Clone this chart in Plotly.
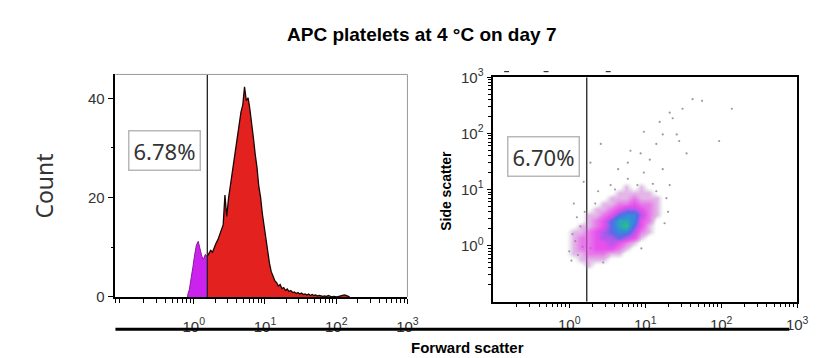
import numpy as np
import plotly.graph_objects as go

# ---------------- data ----------------
TITLE = "APC platelets at 4 °C on day 7"
X_TITLE = "Forward scatter"
Y_LEFT_TITLE = "Count"
Y_RIGHT_TITLE = "Side scatter"
GATE_LABEL_LEFT = "6.78%"
GATE_LABEL_RIGHT = "6.70%"
GATE_LEFT = 1.55     # forward-scatter gate, histogram
GATE_RIGHT = 1.7     # forward-scatter gate, dot plot

# histogram: log10(FSC) bins
HIST_BIN_START_LOG = -0.1
HIST_BIN_WIDTH_LOG = 0.025
HIST_COUNTS = [
    0.3, 1.5, 3.5, 6.0, 8.5, 10.5, 11.2, 9.5, 8.2, 7.6, 8.6, 8.1,
    8.9, 9.4, 9.0, 10.1, 10.8, 11.5, 12.6, 13.4, 14.5, 20.5, 16.2, 19.8,
    22.4, 24.6, 26.9, 29.8, 32.1, 35.0, 37.2, 38.6, 42.3, 39.5, 40.1, 37.8,
    35.2, 32.0, 28.7, 26.1, 22.3, 20.1, 16.8, 14.2, 11.3, 8.9, 6.8, 5.1,
    4.2, 3.3, 2.9, 2.2, 2.5, 1.7, 1.9, 1.3, 1.6, 1.1, 1.3, 0.9,
    1.0, 0.7, 0.9, 0.6, 0.8, 0.5, 0.6, 0.4, 0.6, 0.3, 0.5, 0.3,
    0.4, 0.2, 0.3, 0.2, 0.1, 0.2, 0.1, 0.3, 0.1, 0.0, 0.1, 0.0,
    0.0, 0.1, 0.2, 0.3, 0.4, 0.3, 0.2, 0.0,
]

# dot plot: density grid (log10 FSC columns, log10 SSC rows, bottom -> top)
DENS_FSC_LOG = [-0.15, -0.05, 0.05, 0.15, 0.25, 0.35, 0.45, 0.55, 0.65,
                0.75, 0.85, 0.95, 1.05, 1.15, 1.25, 1.35, 1.45]
DENS_SSC_LOG = [-0.45, -0.35, -0.25, -0.15, -0.05, 0.05, 0.15, 0.25, 0.35,
                0.45, 0.55, 0.65, 0.75, 0.85, 0.95, 1.05, 1.15, 1.25]
DENSITY = [
    [0, 0, 0, 0, 0, 0, 0, 0, 0, 0, 0, 0, 0, 0, 0, 0, 0],
    [0, 0, 0, 0, 1, 0, 0, 0, 0, 0, 0, 0, 0, 0, 0, 0, 0],
    [0, 0, 0, 1, 1, 1, 1, 0, 0, 0, 0, 0, 0, 0, 0, 0, 0],
    [0, 0, 1, 1, 2, 2, 2, 1, 1, 0, 0, 0, 0, 0, 0, 0, 0],
    [0, 0, 1, 2, 2, 3, 3, 3, 2, 1, 0, 0, 0, 0, 0, 0, 0],
    [0, 0, 1, 2, 2, 3, 3, 4, 3, 2, 1, 0, 0, 0, 0, 0, 0],
    [0, 0, 1, 2, 2, 3, 4, 4, 5, 4, 3, 1, 0, 0, 0, 0, 0],
    [0, 0, 1, 1, 2, 3, 4, 5, 6, 6, 4, 2, 1, 0, 0, 0, 0],
    [0, 0, 0, 1, 1, 2, 3, 5, 7, 8, 5, 3, 1, 0, 0, 0, 0],
    [0, 0, 0, 0, 1, 2, 3, 5, 7, 7, 6, 3, 2, 0, 0, 0, 0],
    [0, 0, 0, 0, 1, 1, 2, 3, 5, 6, 6, 4, 2, 1, 0, 0, 0],
    [0, 0, 0, 0, 0, 1, 1, 2, 3, 4, 4, 3, 2, 1, 0, 0, 0],
    [0, 0, 0, 0, 0, 0, 1, 1, 2, 2, 3, 2, 2, 1, 0, 0, 0],
    [0, 0, 0, 0, 0, 0, 0, 1, 1, 1, 2, 1, 1, 1, 0, 0, 0],
    [0, 0, 0, 0, 0, 0, 0, 0, 1, 1, 1, 1, 1, 0, 0, 0, 0],
    [0, 0, 0, 0, 0, 0, 0, 0, 0, 1, 0, 1, 0, 0, 0, 0, 0],
    [0, 0, 0, 0, 0, 0, 0, 0, 0, 0, 0, 0, 0, 0, 0, 0, 0],
    [0, 0, 0, 0, 0, 0, 0, 0, 0, 0, 0, 0, 0, 0, 0, 0, 0],
]

# sparse events outside the dense cloud
DOT_FSC = [42, 56, 31, 21, 23, 17, 26, 14, 28, 8.7, 11.5, 6.4, 5.9, 9.6,
           17, 2.6, 4.4, 3.5, 21, 94, 138, 35, 1.55, 1.15, 2.4, 14, 19,
           15.5, 9.6, 5.9, 1.9, 1.07, 1.3, 1.9, 7.9,
           1.6, 2.2, 20, 18, 8.9, 2.8, 1.26, 4.0, 12.6, 1.0,
           1.1, 1.4, 1.2, 1.5]
DOT_SSC = [407, 380, 275, 234, 186, 96, 96, 65, 73, 44, 34, 49, 15.5, 20,
           23, 65, 23, 12, 12, 73, 275, 44, 13.7, 5.6, 9.3, 9.3, 7,
           160, 107, 30, 30, 0.54, 0.68, 0.9, 12,
           4.0, 5.6, 4.0, 2.5, 0.89, 0.5, 3.2, 10, 12.6, 0.79,
           1.6, 2.2, 1.2, 0.95]

TICK_VALS = [1, 10, 100, 1000]
TICK_TEXT = ["10<sup>0</sup>", "10<sup>1</sup>", "10<sup>2</sup>", "10<sup>3</sup>"]
COUNT_TICKS = [0, 20, 40]

# ---------------- figure ----------------
W, H = 819, 358


def px(x):
    return x / W


def py(y):
    return 1 - y / H


edges_log = HIST_BIN_START_LOG + HIST_BIN_WIDTH_LOG * np.arange(len(HIST_COUNTS))
centers_log = edges_log + HIST_BIN_WIDTH_LOG / 2
centers = list(10 ** centers_log)
counts = list(HIST_COUNTS)
k = int(np.sum(centers_log < np.log10(GATE_LEFT)))

# interpolated value exactly at the gate so both fills meet
gate_val = float(np.interp(np.log10(GATE_LEFT), centers_log, counts))
mag_x = [centers[0]] + centers[:k] + [GATE_LEFT]
mag_y = [0] + counts[:k] + [gate_val]
red_x = [GATE_LEFT] + centers[k:] + [centers[-1]]
red_y = [gate_val] + counts[k:] + [0]

fig = go.Figure()

fig.add_trace(go.Scatter(x=mag_x, y=mag_y, mode="lines",
                         fill="tozeroy", fillcolor="#cc22ee",
                         line=dict(color="#8a1a9a", width=1),
                         xaxis="x", yaxis="y", hoverinfo="skip"))
fig.add_trace(go.Scatter(x=red_x, y=red_y, mode="lines",
                         fill="tozeroy", fillcolor="#e3221f",
                         line=dict(color="#1a0505", width=1.3),
                         xaxis="x", yaxis="y", hoverinfo="skip"))
fig.add_trace(go.Scatter(x=[GATE_LEFT, GATE_LEFT], y=[0, 44.8], mode="lines",
                         line=dict(color="#222", width=1.3),
                         xaxis="x", yaxis="y", hoverinfo="skip"))

# dot plot density
cs = [
    [0.0, "rgba(255,255,255,0)"],
    [0.06, "rgba(180,160,190,0.22)"],
    [0.125, "rgba(200,110,210,0.5)"],
    [0.25, "rgba(220,70,225,0.72)"],
    [0.375, "rgba(226,50,232,0.85)"],
    [0.5, "rgba(170,70,232,0.9)"],
    [0.625, "#5a6ae8"],
    [0.75, "#3a86e0"],
    [0.875, "#2aa8b8"],
    [1.0, "#30c080"],
]
fig.add_trace(go.Heatmap(x=DENS_FSC_LOG, y=DENS_SSC_LOG, z=DENSITY,
                         colorscale=cs, zmin=0, zmax=8, zsmooth="best",
                         showscale=False, xaxis="x3", yaxis="y3",
                         hoverinfo="skip"))
fig.add_trace(go.Scatter(x=DOT_FSC, y=DOT_SSC, mode="markers",
                         marker=dict(size=2.2, color="#7a7a7a", opacity=0.75),
                         xaxis="x2", yaxis="y2", hoverinfo="skip"))
fig.add_trace(go.Scatter(x=[GATE_RIGHT, GATE_RIGHT], y=[0.1, 1000], mode="lines",
                         line=dict(color="#222", width=1.3),
                         xaxis="x2", yaxis="y2", hoverinfo="skip"))

minor_log = [m * 10.0 ** d for d in range(-2, 3) for m in range(2, 10)]
tickfont = dict(family="Liberation Sans, Arial", size=15, color="#333")

common_x = dict(type="log", showline=True, linecolor="black", linewidth=1.5,
                ticks="outside", ticklen=5, tickwidth=1.2, tickcolor="black",
                tickvals=TICK_VALS, ticktext=TICK_TEXT, tickfont=tickfont,
                minor=dict(ticks="outside", ticklen=4, tickwidth=1,
                           tickcolor="black", tickvals=minor_log, showgrid=False),
                showgrid=False, zeroline=False)

fig.update_layout(
    width=W, height=H, margin=dict(l=0, r=0, t=0, b=0),
    paper_bgcolor="white", plot_bgcolor="white", showlegend=False,
    xaxis=dict(common_x, domain=[px(117), px(413)], range=[-1.1, 3.0],
               anchor="y", ticklabelstandoff=10),
    yaxis=dict(domain=[py(302), py(67)], range=[0, 44.8], anchor="x",
               showline=True, linecolor="black", linewidth=1.5,
               ticks="outside", ticklen=6, tickwidth=1.2, tickcolor="black",
               tickvals=COUNT_TICKS,
               tickfont=dict(family="Liberation Sans, Arial", size=15, color="#333"),
               minor=dict(ticks="outside", ticklen=3, tickwidth=1, dtick=10,
                          tickcolor="black", showgrid=False),
               showgrid=False, zeroline=False),
    xaxis2=dict(common_x, domain=[px(500), px(808)], range=[-1, 3],
                anchor="y2", mirror=True, ticklabelstandoff=4),
    yaxis2=dict(type="log", domain=[py(307), py(70)], range=[-1, 3], anchor="x2",
                showline=True, linecolor="black", linewidth=1.5, mirror=True,
                ticks="outside", ticklen=5, tickwidth=1.2, tickcolor="black",
                tickvals=TICK_VALS, ticktext=TICK_TEXT, tickfont=tickfont,
                minor=dict(ticks="outside", ticklen=4, tickwidth=1,
                           tickcolor="black", tickvals=minor_log, showgrid=False),
                showgrid=False, zeroline=False),
    xaxis3=dict(overlaying="x2", range=[-1, 3], visible=False, anchor="y3",
                domain=[px(500), px(808)]),
    yaxis3=dict(overlaying="y2", range=[-1, 3], visible=False, anchor="x3",
                domain=[py(307), py(70)]),
)

shapes = [
    # light frame of histogram panel (top & right)
    dict(type="line", xref="paper", yref="paper", x0=px(117), x1=px(413),
         y0=py(67), y1=py(67), line=dict(color="#9a9a9a", width=1)),
    dict(type="line", xref="paper", yref="paper", x0=px(413), x1=px(413),
         y0=py(67), y1=py(302), line=dict(color="#9a9a9a", width=1)),
    # shared axis bar
    dict(type="line", xref="paper", yref="paper", x0=px(117), x1=px(800),
         y0=py(336), y1=py(336), line=dict(color="black", width=3)),
]
for xd in (511, 551, 614):
    shapes.append(dict(type="line", xref="paper", yref="paper", x0=px(xd), x1=px(xd + 5),
                       y0=py(64), y1=py(64), line=dict(color="#333", width=1.2)))
fig.update_layout(shapes=shapes)

annotations = [
    dict(text=f"<b>{TITLE}</b>", x=px(427), y=py(25), xref="paper", yref="paper",
         showarrow=False, xanchor="center", yanchor="middle",
         font=dict(family="Liberation Sans, Arial", size=19, color="black")),
    dict(text=f"<b>{X_TITLE}</b>", x=px(474), y=py(344), xref="paper", yref="paper",
         showarrow=False, xanchor="center", yanchor="top",
         font=dict(family="Liberation Sans, Arial", size=15, color="black")),
    dict(text=Y_LEFT_TITLE, x=px(45), y=py(185), xref="paper", yref="paper",
         showarrow=False, textangle=-90, xanchor="center", yanchor="middle",
         font=dict(family="Noto Sans", size=23, color="#333")),
    dict(text=f"<b>{Y_RIGHT_TITLE}</b>", x=px(452), y=py(190), xref="paper", yref="paper",
         showarrow=False, textangle=-90, xanchor="center", yanchor="middle",
         font=dict(family="Liberation Sans, Arial", size=14, color="black")),
    dict(text=GATE_LABEL_LEFT, x=px(167), y=py(147), xref="paper", yref="paper",
         showarrow=False, xanchor="center", yanchor="middle",
         bordercolor="#b8b8b8", borderwidth=1.5, borderpad=4, bgcolor="white",
         font=dict(family="Noto Sans", size=22, color="#333")),
    dict(text=GATE_LABEL_RIGHT, x=px(551), y=py(154), xref="paper", yref="paper",
         showarrow=False, xanchor="center", yanchor="middle",
         bordercolor="#b8b8b8", borderwidth=1.5, borderpad=4, bgcolor="white",
         font=dict(family="Noto Sans", size=22, color="#333")),
]
fig.update_layout(annotations=annotations)

fig.write_html("out.html")
